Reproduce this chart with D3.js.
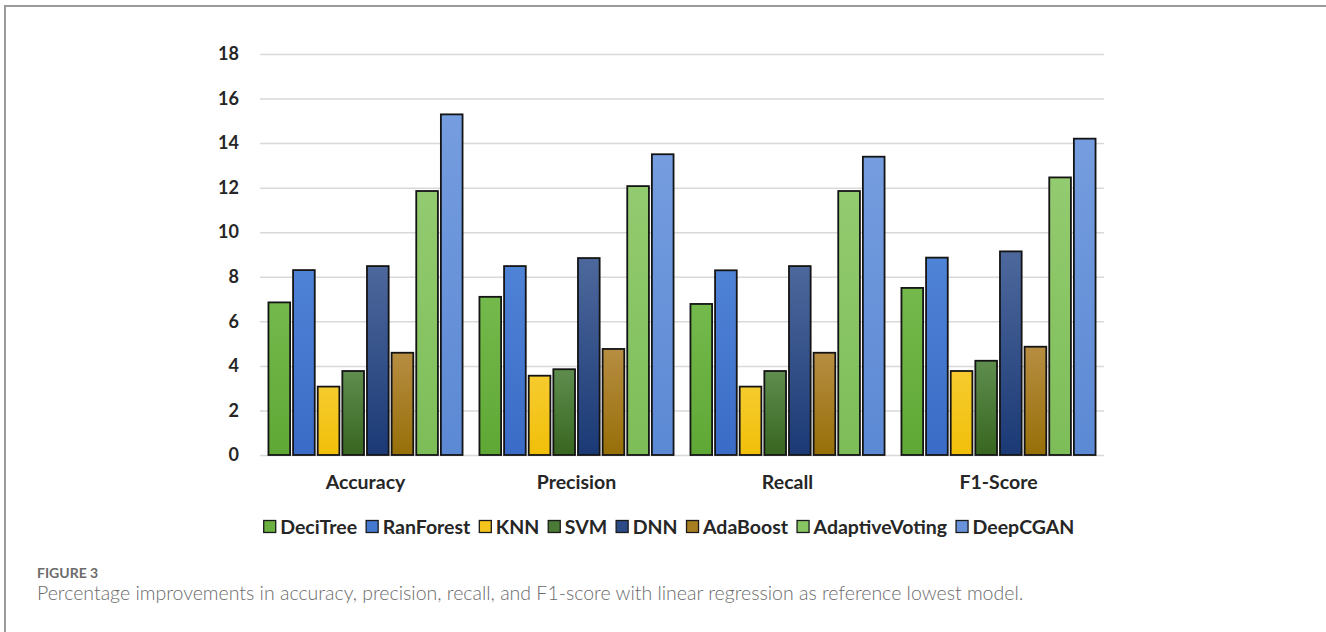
<!DOCTYPE html>
<html>
<head>
<meta charset="utf-8">
<script src="https://cdn.jsdelivr.net/npm/d3@7"></script>
<style>
  html, body { margin: 0; padding: 0; background: #ffffff; }
  svg { display: block; }
</style>
</head>
<body>
<svg id="chart" width="1326" height="632"></svg>
<script>
// Metric groups along the x axis
const metrics = ["Accuracy", "Precision", "Recall", "F1-Score"];

// Models, one bar per model in every group
const models = ["DeciTree", "RanForest", "KNN", "SVM", "DNN", "AdaBoost", "AdaptiveVoting", "DeepCGAN"];

// Percentage improvement per model, in metric order
const deciTree       = [6.85, 7.10, 6.78, 7.50];
const ranForest      = [8.30, 8.48, 8.29, 8.86];
const knn            = [3.07, 3.56, 3.07, 3.77];
const svm            = [3.77, 3.85, 3.77, 4.23];
const dnn            = [8.48, 8.84, 8.48, 9.14];
const adaBoost       = [4.59, 4.76, 4.59, 4.86];
const adaptiveVoting = [11.85, 12.07, 11.85, 12.46];
const deepCGAN       = [15.29, 13.50, 13.39, 14.20];

// Y axis tick labels
const yTicks = [0, 2, 4, 6, 8, 10, 12, 14, 16, 18];

// Caption
const figureLabel = "FIGURE 3";
const captionText = "Percentage improvements in accuracy, precision, recall, and F1-score with linear regression as reference lowest model.";

const seriesValues = [deciTree, ranForest, knn, svm, dnn, adaBoost, adaptiveVoting, deepCGAN];
const rows = metrics.map((m, i) => ({
  metric: m,
  values: models.map((name, j) => ({ model: name, idx: j, value: seriesValues[j][i] }))
}));

// Fill colours: [top, bottom] of each bar's vertical gradient
const palette = [
  ["#74b94c", "#5fa835"],
  ["#4f83d6", "#3a6bc6"],
  ["#f6cb2e", "#f1bf0a"],
  ["#5e8d4e", "#386620"],
  ["#4d689c", "#1b3975"],
  ["#b78d42", "#976f08"],
  ["#93cb70", "#7dbd58"],
  ["#759ddf", "#5c89d4"]
];
const swatch = ["#6ab142", "#4479d0", "#f4c51c", "#4a7a36", "#2c4c88", "#a87e22", "#88c563", "#6893da"];

const chartFont = "Lato, 'Open Sans', sans-serif";
const svg = d3.select("#chart");

// Figure frame (top and left rule)
svg.append("line").attr("x1", 4).attr("x2", 1326).attr("y1", 6).attr("y2", 6)
  .attr("stroke", "#9a9a9a").attr("stroke-width", 2);
svg.append("line").attr("x1", 5).attr("x2", 5).attr("y1", 5).attr("y2", 632)
  .attr("stroke", "#9a9a9a").attr("stroke-width", 2);

const defs = svg.append("defs");
palette.forEach((c, i) => {
  const g = defs.append("linearGradient").attr("id", "grad" + i)
    .attr("x1", 0).attr("y1", 0).attr("x2", 0).attr("y2", 1);
  g.append("stop").attr("offset", "0%").attr("stop-color", c[0]);
  g.append("stop").attr("offset", "100%").attr("stop-color", c[1]);
});

const plotLeft = 260, plotRight = 1104, plotTop = 54, plotBottom = 455;

const x0 = d3.scaleBand().domain(metrics).range([plotLeft, plotRight])
  .paddingInner(0.08).paddingOuter(0.04);
const x1 = d3.scaleBand().domain(models).range([0, x0.bandwidth()])
  .paddingInner(0.12).paddingOuter(0);
const y = d3.scaleLinear().domain([0, 18]).range([plotBottom, plotTop]);

// Horizontal gridlines
const grid = d3.axisLeft(y).tickValues(yTicks).tickSize(-(plotRight - plotLeft)).tickFormat("");
svg.append("g").attr("transform", `translate(${plotLeft},0)`).call(grid)
  .call(g => g.select(".domain").remove())
  .call(g => g.selectAll("line").attr("stroke", "#d9d9d9").attr("stroke-width", 1.5));

// Y tick labels
const yAxis = d3.axisLeft(y).tickValues(yTicks).tickSize(0).tickPadding(21).tickFormat(d3.format("d"));
svg.append("g").attr("transform", `translate(${plotLeft},0)`).call(yAxis)
  .call(g => g.select(".domain").remove())
  .call(g => g.selectAll("text")
    .attr("font-family", chartFont)
    .attr("font-weight", "bold")
    .attr("font-size", 18)
    .attr("fill", "#262626"));

// Bars
const groups = svg.append("g").selectAll("g").data(rows).join("g")
  .attr("transform", d => `translate(${x0(d.metric)},0)`);
groups.selectAll("rect").data(d => d.values).join("rect")
  .attr("x", d => x1(d.model))
  .attr("width", x1.bandwidth())
  .attr("y", d => y(d.value))
  .attr("height", d => y(0) - y(d.value))
  .attr("fill", d => `url(#grad${d.idx})`)
  .attr("stroke", "#141414")
  .attr("stroke-width", 1.8);

// Category labels
const xAxis = d3.axisBottom(x0).tickSize(0).tickPadding(20);
svg.append("g").attr("transform", `translate(0,${plotBottom})`).call(xAxis)
  .call(g => g.select(".domain").remove())
  .call(g => g.selectAll("text")
    .attr("font-family", chartFont)
    .attr("font-weight", "bold")
    .attr("font-size", 19.5)
    .attr("fill", "#262626"));

// Legend, centred under the plot
const legend = svg.append("g");
const items = legend.selectAll("g").data(models).join("g");
items.append("rect").attr("width", 12).attr("height", 12).attr("y", 520.5)
  .attr("fill", (d, i) => swatch[i]).attr("stroke", "#1a1a1a").attr("stroke-width", 1.3);
items.append("text").text(d => d).attr("x", 16.5).attr("y", 533.5)
  .attr("font-family", chartFont)
  .attr("font-weight", "bold").attr("font-size", 19.5).attr("fill", "#262626");
let cursor = 0;
items.each(function() {
  const w = d3.select(this).select("text").node().getComputedTextLength();
  d3.select(this).attr("transform", `translate(${cursor},0)`);
  cursor += 16.5 + w + 9;
});
const legendWidth = cursor - 9;
legend.attr("transform", `translate(${669 - legendWidth / 2},0)`);

// Caption
svg.append("text").text(figureLabel).attr("x", 37).attr("y", 578)
  .attr("font-family", chartFont).attr("font-size", 14)
  .attr("font-weight", "bold").attr("fill", "#6b6b6b");
svg.append("text").text(captionText).attr("x", 37).attr("y", 599.5)
  .attr("font-family", chartFont).attr("font-size", 19.5)
  .attr("font-weight", 300).attr("fill", "#6b6b6b");
</script>
</body>
</html>
